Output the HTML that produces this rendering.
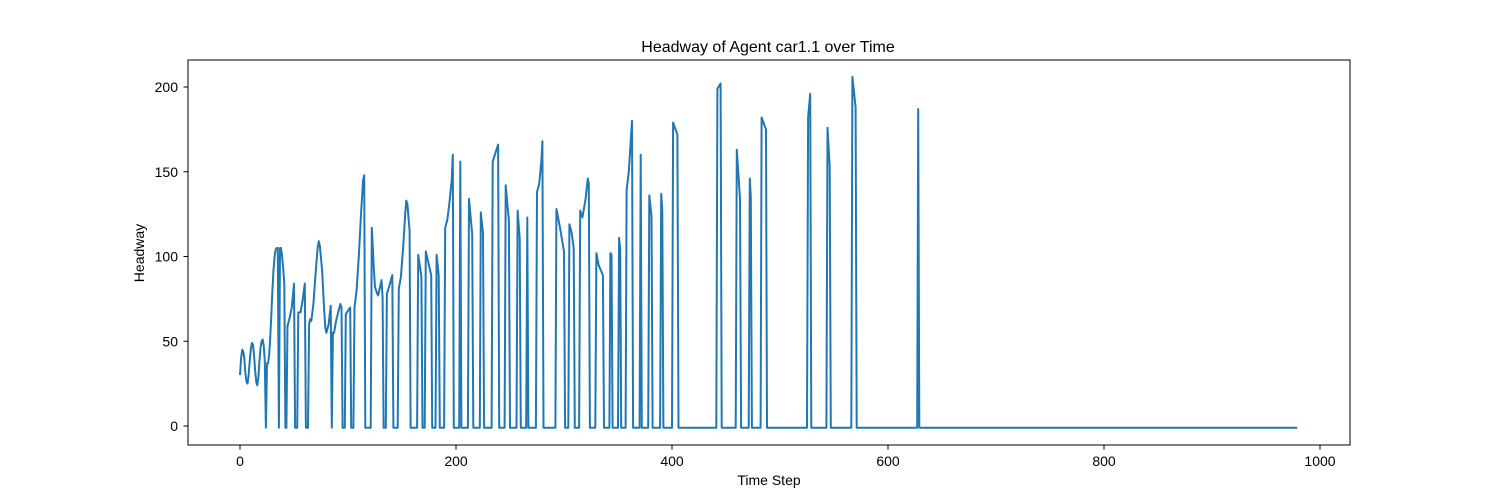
<!DOCTYPE html>
<html><head><meta charset="utf-8"><style>
body{margin:0;background:#fff;}
svg{display:block;font-family:"Liberation Sans",sans-serif;}
</style></head><body>
<svg id="chart" width="1500" height="500">
<rect x="0" y="0" width="1500" height="500" fill="#fff"/>
<text x="768" y="52" font-size="16" text-anchor="middle">Headway of Agent car1.1 over Time</text>
<g id="plot"></g>
<g id="axes"></g>
<text x="769" y="485" font-size="14" text-anchor="middle">Time Step</text>
<text x="144" y="253" font-size="14" text-anchor="middle" transform="rotate(-90 144 253)">Headway</text>
<rect x="188" y="60" width="1162" height="385" fill="none" stroke="#000" stroke-width="1"/>
</svg>
<script>
const times = [0,1,2,3,4,5,6,7,8,9,10,11,12,13,14,15,16,17,18,19,20,21,22,23,24,25,26,27,28,29,30,31,32,33,34,35,36,37,38,39,40,41,42,43,44,46,48,50,51,53,54,56,58,60,61,63,64,65,66,68,70,72,73,74,76,78,79,80,82,84,85,86,87,89,92,93,94,95,97,98,100,102,103,105,106,108,110,112,114,115,116,121,122,123,124,125,127,128,130,131,132,133,135,136,138,141,142,146,147,149,151,153,154,155,157,158,164,165,168,169,171,172,177,178,181,182,184,185,189,190,192,194,196,197,198,203,204,205,211,212,215,216,222,223,225,226,233,234,239,240,245,246,249,250,256,257,259,260,265,266,267,274,275,277,279,280,281,292,293,296,300,301,304,305,307,309,310,314,315,317,320,322,323,324,329,330,332,336,337,342,343,344,345,350,351,352,353,357,358,360,363,364,370,371,372,378,379,381,382,389,390,391,392,400,401,405,406,441,442,445,446,459,460,463,464,471,472,473,474,482,483,487,488,525,526,528,529,543,544,546,547,566,567,570,571,627,628,629,979];
const headway = [30,40,45,44,40,31,26,25,30,38,45,49,48,42,33,26,24,29,38,46,50,51,47,38,-1,37,37,42,52,65,80,92,100,104,105,105,-1,105,105,100,93,84,-1,-1,59,64,70,84,-1,-1,67,67,74,84,-1,-1,60,63,62,72,90,106,109,106,92,68,58,55,60,71,-1,55,55,62,70,72,70,-1,-1,66,68,70,-1,-1,70,80,100,125,145,148,-1,-1,117,105,92,82,78,77,83,86,76,-1,-1,78,82,89,-1,-1,81,88,105,125,133,131,115,-1,-1,101,88,-1,-1,103,89,-1,-1,101,89,-1,-1,117,122,132,145,160,-1,-1,156,-1,-1,134,113,-1,-1,126,114,-1,-1,156,166,-1,-1,142,121,-1,-1,127,111,-1,-1,123,-1,-1,138,143,156,168,-1,-1,128,118,103,-1,-1,119,114,105,-1,-1,127,123,134,146,143,-1,-1,102,95,89,-1,-1,102,101,-1,-1,111,104,-1,-1,139,150,180,-1,-1,160,-1,-1,136,124,-1,-1,137,127,-1,-1,179,172,-1,-1,199,202,-1,-1,163,134,-1,-1,146,135,-1,-1,182,175,-1,-1,182,196,-1,-1,176,153,-1,-1,206,188,-1,-1,187,-1,-1];
const xTicks = [0,200,400,600,800,1000];
const yTicks = [0,50,100,150,200];
const xs = t => 240 + t*1.08;
const ys = v => 426 - v*1.695;
const NS = "http://www.w3.org/2000/svg";
const plot = document.getElementById('plot');
const axes = document.getElementById('axes');
let d = '';
times.forEach((t,i)=>{ d += (i?'L':'M') + xs(t).toFixed(1) + ' ' + ys(headway[i]).toFixed(1); });
const path = document.createElementNS(NS,'path');
path.setAttribute('d', d);
path.setAttribute('fill','none');
path.setAttribute('stroke','#1f77b4');
path.setAttribute('stroke-width','2');
path.setAttribute('stroke-linejoin','round');


plot.appendChild(path);
xTicks.forEach(v=>{
  const x = xs(v);
  const l = document.createElementNS(NS,'line');
  l.setAttribute('x1',x); l.setAttribute('x2',x); l.setAttribute('y1',445); l.setAttribute('y2',449.5);
  l.setAttribute('stroke','#000');
  
  
  axes.appendChild(l);
  const tx = document.createElementNS(NS,'text');
  tx.setAttribute('x',x); tx.setAttribute('y',466); tx.setAttribute('font-size','14'); tx.setAttribute('text-anchor','middle');
  tx.textContent = v;
  
  
  axes.appendChild(tx);
});
yTicks.forEach(v=>{
  const y = ys(v);
  const l = document.createElementNS(NS,'line');
  l.setAttribute('x1',183.5); l.setAttribute('x2',188); l.setAttribute('y1',y); l.setAttribute('y2',y);
  l.setAttribute('stroke','#000');
  
  
  axes.appendChild(l);
  const tx = document.createElementNS(NS,'text');
  tx.setAttribute('x',178); tx.setAttribute('y',y+5); tx.setAttribute('font-size','14'); tx.setAttribute('text-anchor','end');
  tx.textContent = v;
  
  
  axes.appendChild(tx);
});
</script>
</body></html>
